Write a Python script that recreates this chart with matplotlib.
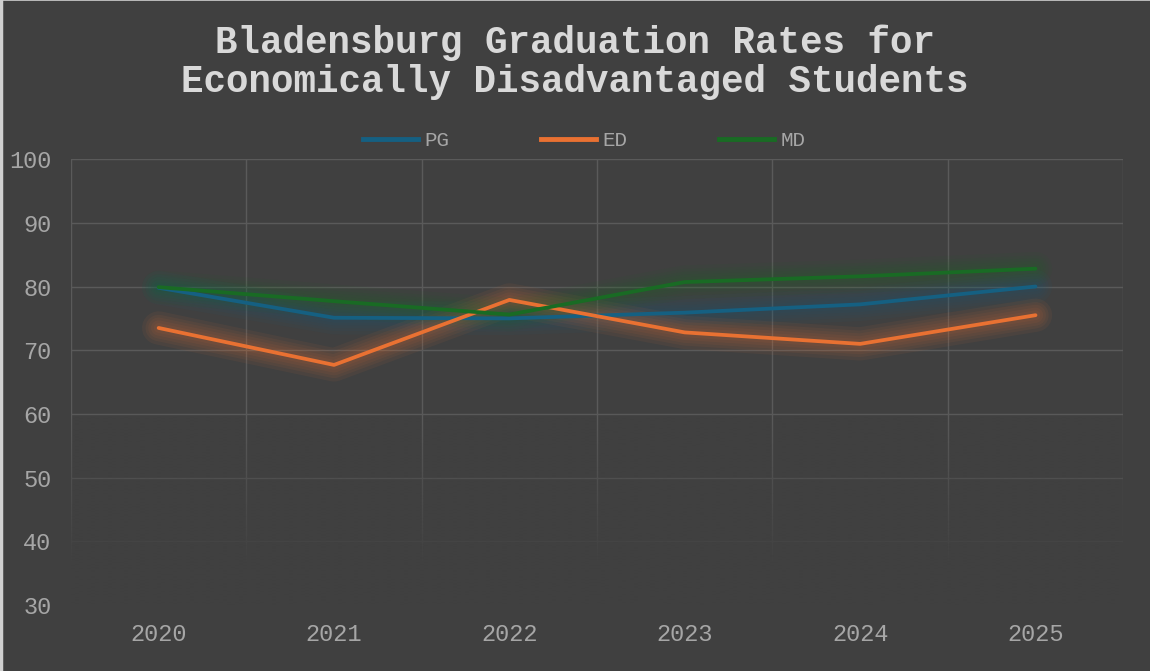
import numpy as np
import matplotlib
matplotlib.use("Agg")
import matplotlib.pyplot as plt
from matplotlib.lines import Line2D

# data
years = ["2020", "2021", "2022", "2023", "2024", "2025"]
pg = [79.8, 75.1, 75.0, 75.9, 77.2, 80.0]
ed = [73.5, 67.7, 77.9, 72.8, 71.0, 75.5]
md = [79.9, 77.7, 75.6, 80.7, 81.6, 82.8]

series_names = ["PG", "ED", "MD"]
series_colors = ["#156082", "#E97132", "#196B24"]

bg = "#404040"
grid_col = "#5a5a5a"
text_col = "#a6a6a6"
mono = ["Liberation Mono", "DejaVu Sans Mono"]

fig = plt.figure(figsize=(11.5, 6.71), dpi=100, facecolor=bg)
ax = fig.add_axes([0.0617, 0.098, 0.915, 0.665])
ax.set_facecolor(bg)

x = np.arange(len(years))

# gridlines (horizontal at ticks, vertical between categories)
for v in range(30, 101, 10):
    ax.axhline(v, color=grid_col, lw=1.0, zorder=1)
for b in np.arange(-0.5, len(years), 1.0):
    ax.axvline(b, color=grid_col, lw=1.0, zorder=1)

# fade the lower part of the grid like the reference
vy = np.linspace(100, 30, 256)
fade = np.zeros((256, 1, 4))
fade[..., :3] = matplotlib.colors.to_rgb(bg)
fade[:, 0, 3] = np.clip((60 - vy) / 24, 0, 1)
ax.imshow(fade, extent=[-0.5, 5.5, 30, 100], aspect="auto", origin="upper",
          zorder=2, interpolation="bilinear")

# glowing lines
for vals, c in zip([pg, ed, md], series_colors):
    for w in [24, 19, 15, 11, 7]:
        ax.plot(x, vals, color=c, lw=w, alpha=0.065, solid_capstyle="round",
                solid_joinstyle="round", zorder=3)
for vals, c in zip([pg, ed, md], series_colors):
    ax.plot(x, vals, color=c, lw=2.7, solid_capstyle="round",
            solid_joinstyle="round", zorder=4)

ax.set_xlim(-0.5, 5.5)
ax.set_ylim(30, 100)
ax.set_yticks(range(30, 101, 10))
ax.set_xticks(x)
ax.set_xticklabels(years)
ax.tick_params(length=0, colors=text_col, labelsize=17, pad=13)
ax.tick_params(axis="y", pad=14)
for lab in ax.get_xticklabels() + ax.get_yticklabels():
    lab.set_fontfamily(mono)
for s in ax.spines.values():
    s.set_visible(False)

fig.text(0.5, 0.907, "Bladensburg Graduation Rates for\nEconomically Disadvantaged Students",
         ha="center", va="center", fontsize=27, fontweight="bold",
         color="#d9d9d9", family=mono, linespacing=1.12)

handles = [Line2D([0], [0], color=c, lw=3.5) for c in series_colors]
leg = fig.legend(handles, series_names, loc="center", bbox_to_anchor=(0.508, 0.79),
                 ncol=3, frameon=False, handlelength=2.65, columnspacing=4.4,
                 handletextpad=0.3, prop={"family": mono, "size": 15})
for t in leg.get_texts():
    t.set_color(text_col)

# thin light border on the left and top edges
fig.add_artist(Line2D([0.001, 0.001], [0, 1], color="#d0d0d0", lw=2.5, transform=fig.transFigure))
fig.add_artist(Line2D([0, 1], [0.9995, 0.9995], color="#d0d0d0", lw=1.2, transform=fig.transFigure))

fig.savefig("out.png", dpi=100, facecolor=bg)
